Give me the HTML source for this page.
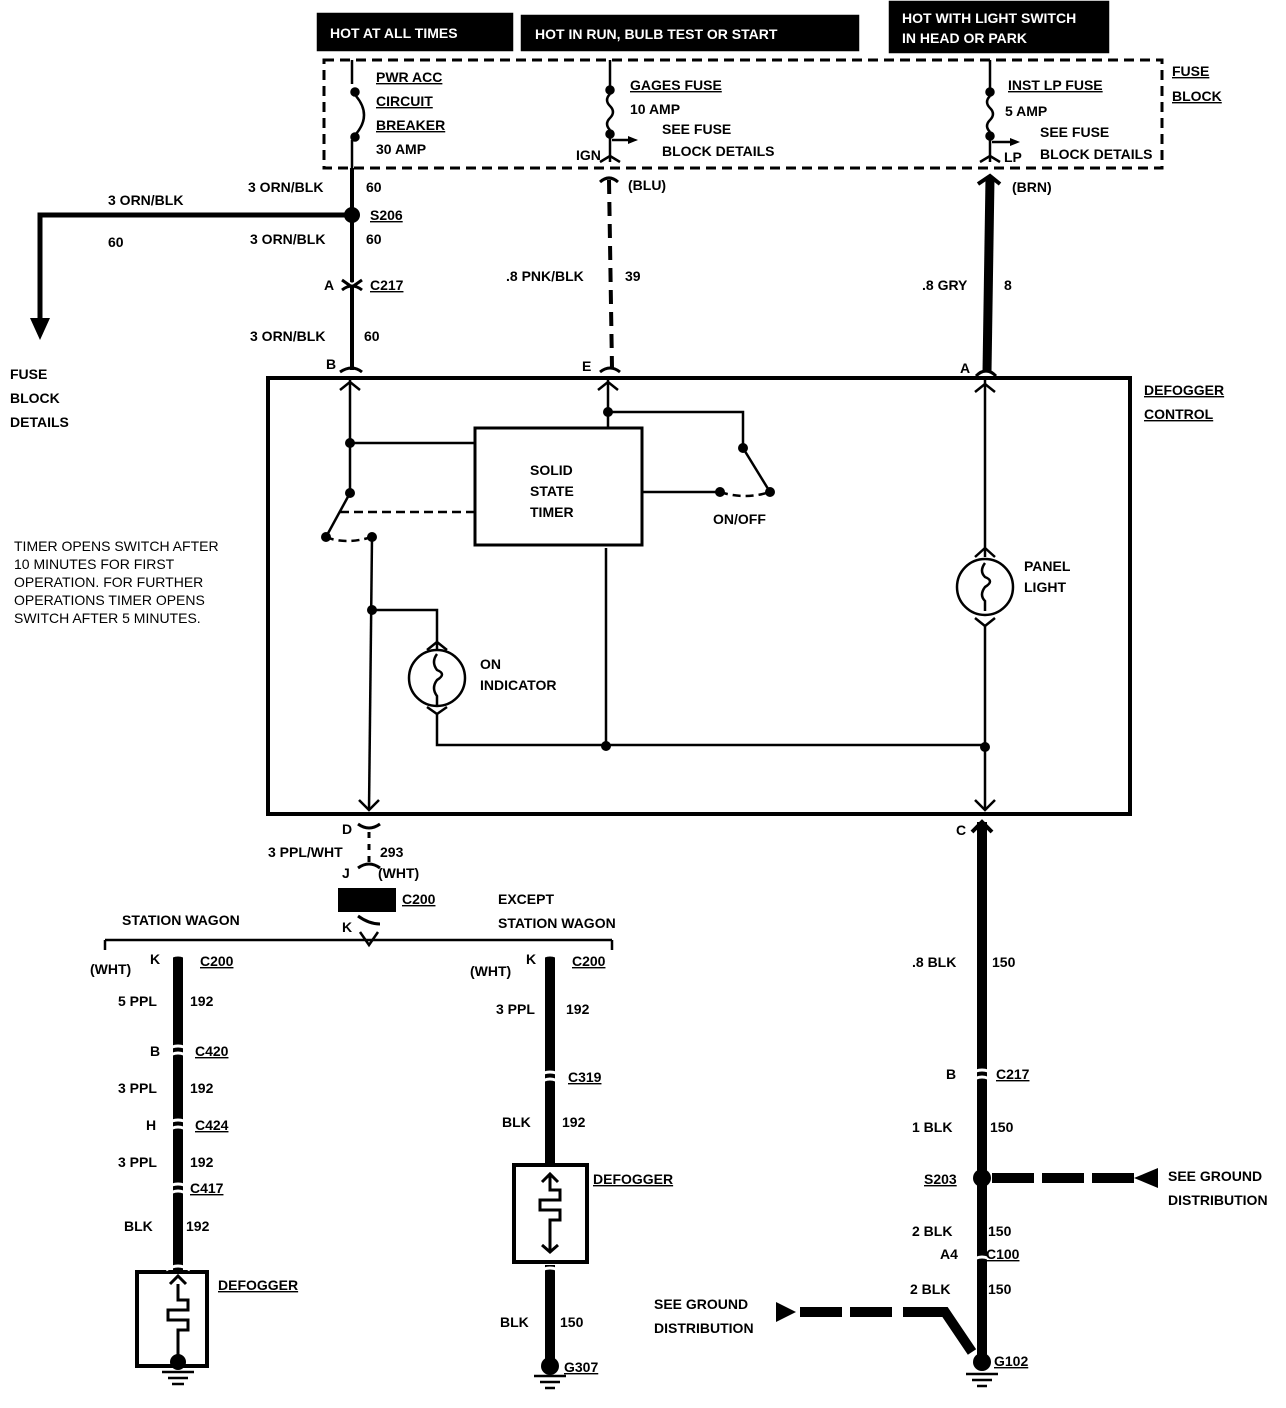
<!DOCTYPE html>
<html><head><meta charset="utf-8"><style>
html,body{margin:0;padding:0;background:#fff}
svg{display:block}
text{font-family:"Liberation Sans",sans-serif;font-weight:bold;font-size:14px;fill:#000}
.u{text-decoration:underline}
</style></head><body>
<svg width="1286" height="1408" viewBox="0 0 1286 1408" xmlns="http://www.w3.org/2000/svg">
<g fill="none" stroke="#000" stroke-width="2.5">
<rect x="318" y="14" width="194" height="36" fill="#000"/>
<rect x="522" y="16" width="336" height="34" fill="#000"/>
<rect x="890" y="2" width="218" height="50" fill="#000"/>
<rect x="324" y="60" width="838" height="108" stroke-dasharray="10,6" stroke-width="3"/>
<rect x="268" y="378" width="862" height="436" stroke-width="4"/>
<line x1="352" y1="60" x2="352" y2="84"/>
<circle cx="355" cy="92" r="3.5" fill="#000"/>
<path d="M356 96 Q372 115 356 134"/>
<circle cx="355" cy="137" r="3.5" fill="#000"/>
<line x1="352" y1="140" x2="352" y2="168"/>
<line x1="610" y1="60" x2="610" y2="86"/>
<circle cx="610" cy="90" r="3.5" fill="#000"/>
<path d="M610 94 q-6 6 0 12 q6 6 0 12 q-6 6 0 12"/>
<circle cx="610" cy="134" r="3.5" fill="#000"/>
<line x1="610" y1="138" x2="610" y2="162"/>
<line x1="612" y1="140" x2="628" y2="140"/>
<path d="M600 162 L610 156 L620 162"/>
<line x1="990" y1="60" x2="990" y2="88"/>
<circle cx="990" cy="92" r="3.5" fill="#000"/>
<path d="M990 96 q-6 6 0 12 q6 6 0 12 q-6 6 0 12"/>
<circle cx="990" cy="136" r="3.5" fill="#000"/>
<line x1="990" y1="140" x2="990" y2="162"/>
<line x1="992" y1="142" x2="1010" y2="142"/>
<path d="M980 162 L990 156 L1000 162"/>
</g>
<polygon points="1010,138 1020,142 1010,146" fill="#000"/>
<polygon points="628,136 638,140 628,144" fill="#000"/>
<g stroke="#000" fill="none">
<line x1="352" y1="168" x2="352" y2="370" stroke-width="4"/>
<line x1="609" y1="180" x2="612" y2="368" stroke-width="4" stroke-dasharray="14,8"/>
<line x1="990" y1="178" x2="987" y2="372" stroke-width="9"/>
<path d="M600 182 Q609 174 618 182" stroke-width="3"/>
<path d="M978 184 L990 176 L1000 184" stroke-width="4"/>
<path d="M352 215 L40 215 L40 318" stroke-width="5"/>
<path d="M342 288 Q352 280 362 288 M342 278 L352 285 L362 278" stroke="#fff" stroke-width="3"/>
<path d="M342 290 Q352 282 362 290 M342 280 L352 287 L362 280" stroke-width="3"/>
<path d="M340 372 Q352 364 362 372 M600 372 Q610 364 620 372 M976 376 Q986 366 996 376" stroke-width="3"/>
</g>
<polygon points="30,318 50,318 40,340" fill="#000"/>
<circle cx="352" cy="215" r="8" fill="#000"/>
<g stroke="#000" fill="none" stroke-width="2.5">
<line x1="350" y1="380" x2="350" y2="493"/>
<path d="M340 390 L350 382 L360 390 M598 390 L608 382 L618 390 M975 392 L985 384 L995 392"/>
<line x1="350" y1="443" x2="475" y2="443"/>
<line x1="350" y1="493" x2="326" y2="537"/>
<path d="M326 537 Q345 545 372 537" stroke-dasharray="8,5"/>
<line x1="340" y1="512" x2="475" y2="512" stroke-dasharray="9,5"/>
<rect x="475" y="428" width="167" height="117" stroke-width="3"/>
<line x1="608" y1="380" x2="608" y2="428"/>
<path d="M608 412 L743 412 L743 448 L770 492"/>
<line x1="642" y1="492" x2="720" y2="492"/>
<path d="M720 492 Q745 500 770 492" stroke-dasharray="8,5"/>
<line x1="606" y1="548" x2="606" y2="746"/>
<line x1="372" y1="537" x2="369" y2="810"/>
<path d="M372 610 L437 610 L437 650"/>
<circle cx="437" cy="678" r="28"/>
<path d="M427 650 L437 642 L447 650 M427 707 L437 714 L447 707"/>
<path d="M437 714 L437 745 L985 745"/>
<path d="M437 654 q-6 8 0 16 q10 4 0 10 q-6 8 0 16 l0 10"/>
<line x1="985" y1="380" x2="985" y2="557"/>
<circle cx="985" cy="587" r="28"/>
<path d="M975 557 L985 548 L995 557 M975 618 L985 626 L995 618"/>
<path d="M985 563 q-6 8 0 14 q10 4 0 10 q-6 8 0 14 l0 10"/>
<line x1="985" y1="626" x2="985" y2="810"/>
<path d="M359 800 L369 810 L379 800 M975 800 L985 810 L995 800"/>
</g>
<g fill="#000">
<circle cx="350" cy="443" r="5"/><circle cx="350" cy="493" r="5"/><circle cx="326" cy="537" r="5"/><circle cx="372" cy="537" r="5"/>
<circle cx="608" cy="412" r="5"/><circle cx="743" cy="448" r="5"/><circle cx="770" cy="492" r="5"/><circle cx="720" cy="492" r="5"/>
<circle cx="372" cy="610" r="5"/><circle cx="606" cy="746" r="5"/><circle cx="985" cy="747" r="5"/>
</g>
<g stroke="#000" fill="none">
<path d="M358 824 Q369 832 380 824 M358 916 Q369 924 380 924 M358 868 Q369 860 380 868" stroke-width="3"/>
<line x1="369" y1="832" x2="369" y2="862" stroke-width="3" stroke-dasharray="6,6"/>
<line x1="105" y1="940" x2="612" y2="940" stroke-width="2.5"/>
<path d="M105 950 L105 940 M612 950 L612 940" stroke-width="2.5"/>
<path d="M360 932 L369 945 L378 932" stroke-width="2.5"/>
<line x1="982" y1="822" x2="982" y2="1358" stroke-width="10"/>
<path d="M972 832 L982 822 L992 832" stroke-width="4"/>
<line x1="178" y1="955" x2="178" y2="1272" stroke-width="10"/>
<line x1="550" y1="955" x2="550" y2="1165" stroke-width="10"/>
<line x1="550" y1="1265" x2="550" y2="1362" stroke-width="10"/>
<rect x="137" y="1272" width="70" height="94" stroke-width="4"/>
<rect x="514" y="1165" width="73" height="97" stroke-width="4"/>
<path d="M178 1284 L178 1300 L188 1300 L188 1310 L168 1310 L168 1320 L188 1320 L188 1330 L178 1330 L178 1356" stroke-width="3"/>
<path d="M170 1284 L178 1276 L186 1284" stroke-width="3"/>
<path d="M550 1175 L550 1190 L560 1190 L560 1200 L540 1200 L540 1210 L560 1210 L560 1220 L550 1220 L550 1252" stroke-width="3"/>
<path d="M542 1182 L550 1174 L558 1182 M542 1245 L550 1252 L558 1245" stroke-width="3"/>
<path d="M800 1312 L895 1312" stroke-width="10" stroke-dasharray="42,8"/>
<path d="M903 1312 L945 1312 L972 1352" stroke-width="10"/>
<line x1="992" y1="1178" x2="1140" y2="1178" stroke-width="10" stroke-dasharray="42,8"/>
<path d="M162 1372 h32 M168 1378 h20 M172 1384 h12 M534 1376 h32 M540 1382 h20 M545 1388 h10 M966 1374 h32 M972 1380 h20 M977 1386 h10" stroke-width="2.5"/>
<path d="M166 960 Q178 950 190 960 M538 960 Q550 950 562 960 M166 1058 Q178 1048 190 1058 M166 1050 Q178 1042 190 1050 M166 1132 Q178 1122 190 1132 M166 1124 Q178 1116 190 1124 M166 1196 Q178 1186 190 1196 M166 1188 Q178 1180 190 1188 M538 1084 Q550 1074 562 1084 M538 1076 Q550 1068 562 1076 M970 1082 Q982 1072 994 1082 M970 1074 Q982 1066 994 1074 M970 1262 Q982 1252 994 1262 M166 1270 Q178 1262 190 1270 M538 1272 Q550 1264 562 1272" stroke="#fff" stroke-width="3"/>
</g>
<rect x="338" y="888" width="58" height="24" fill="#000"/>
<polygon points="1134,1178 1158,1168 1158,1188" fill="#000"/>
<polygon points="796,1312 776,1302 776,1322" fill="#000"/>
<circle cx="982" cy="1178" r="9" fill="#000"/>
<circle cx="178" cy="1362" r="8" fill="#000"/>
<circle cx="550" cy="1366" r="9" fill="#000"/>
<circle cx="982" cy="1362" r="9" fill="#000"/>
<text x="330" y="38" style="fill:#fff" font-size="15">HOT AT ALL TIMES</text>
<text x="535" y="39" style="fill:#fff" font-size="15">HOT IN RUN,   BULB TEST OR START</text>
<text x="902" y="23" style="fill:#fff" font-size="13">HOT WITH LIGHT SWITCH</text>
<text x="902" y="43" style="fill:#fff" font-size="13">IN HEAD OR PARK</text>
<text x="376" y="82" class="u" font-size="15">PWR ACC</text>
<text x="376" y="106" class="u" font-size="15">CIRCUIT</text>
<text x="376" y="130" class="u" font-size="15">BREAKER</text>
<text x="376" y="154" font-size="12">30 AMP</text>
<text x="630" y="90" class="u" font-size="15">GAGES FUSE</text>
<text x="630" y="114" font-size="12">10 AMP</text>
<text x="662" y="134" font-size="12">SEE FUSE</text>
<text x="662" y="156" font-size="12">BLOCK DETAILS</text>
<text x="576" y="160" font-size="12">IGN</text>
<text x="1008" y="90" class="u" font-size="15">INST LP FUSE</text>
<text x="1005" y="116" font-size="12">5 AMP</text>
<text x="1040" y="137" font-size="12">SEE FUSE</text>
<text x="1040" y="159" font-size="12">BLOCK DETAILS</text>
<text x="1004" y="162" font-size="12">LP</text>
<text x="1172" y="76" class="u" font-size="15">FUSE</text>
<text x="1172" y="101" class="u" font-size="15">BLOCK</text>
<text x="248" y="192">3 ORN/BLK</text><text x="366" y="192">60</text>
<text x="108" y="205">3 ORN/BLK</text><text x="108" y="247">60</text>
<text x="370" y="220" class="u">S206</text>
<text x="250" y="244">3 ORN/BLK</text><text x="366" y="244">60</text>
<text x="324" y="290">A</text><text x="370" y="290" class="u">C217</text>
<text x="250" y="341">3 ORN/BLK</text><text x="364" y="341">60</text>
<text x="326" y="369">B</text><text x="582" y="371">E</text><text x="960" y="373">A</text>
<text x="628" y="190">(BLU)</text><text x="1012" y="192">(BRN)</text>
<text x="506" y="281">.8 PNK/BLK</text><text x="625" y="281">39</text>
<text x="922" y="290">.8 GRY</text><text x="1004" y="290">8</text>
<text x="10" y="379" font-size="15">FUSE</text><text x="10" y="403" font-size="15">BLOCK</text><text x="10" y="427" font-size="15">DETAILS</text>
<text x="1144" y="395" class="u" font-size="15">DEFOGGER</text>
<text x="1144" y="419" class="u" font-size="15">CONTROL</text>
<text x="530" y="475" font-size="13">SOLID</text><text x="530" y="496" font-size="13">STATE</text><text x="530" y="517" font-size="13">TIMER</text>
<text x="713" y="524" font-size="12">ON/OFF</text>
<text x="480" y="669" font-size="13">ON</text><text x="480" y="690" font-size="13">INDICATOR</text>
<text x="1024" y="571" font-size="12">PANEL</text><text x="1024" y="592" font-size="12">LIGHT</text>
<text x="14" y="551" style="font-weight:normal">TIMER OPENS SWITCH AFTER</text>
<text x="14" y="569" style="font-weight:normal">10 MINUTES FOR FIRST</text>
<text x="14" y="587" style="font-weight:normal">OPERATION.  FOR FURTHER</text>
<text x="14" y="605" style="font-weight:normal">OPERATIONS TIMER OPENS</text>
<text x="14" y="623" style="font-weight:normal">SWITCH AFTER 5 MINUTES.</text>
<text x="342" y="834">D</text><text x="956" y="835">C</text>
<text x="268" y="857">3 PPL/WHT</text><text x="380" y="857">293</text>
<text x="342" y="878">J</text><text x="378" y="878">(WHT)</text>
<text x="402" y="904" class="u">C200</text>
<text x="342" y="932">K</text>
<text x="122" y="925" font-size="15">STATION WAGON</text>
<text x="498" y="904" font-size="15">EXCEPT</text><text x="498" y="928" font-size="15">STATION WAGON</text>
<text x="90" y="974">(WHT)</text><text x="150" y="964">K</text><text x="200" y="966" class="u">C200</text>
<text x="470" y="976">(WHT)</text><text x="526" y="964">K</text><text x="572" y="966" class="u">C200</text>
<text x="118" y="1006">5 PPL</text><text x="190" y="1006">192</text>
<text x="150" y="1056">B</text><text x="195" y="1056" class="u">C420</text>
<text x="118" y="1093">3 PPL</text><text x="190" y="1093">192</text>
<text x="146" y="1130">H</text><text x="195" y="1130" class="u">C424</text>
<text x="118" y="1167">3 PPL</text><text x="190" y="1167">192</text>
<text x="190" y="1193" class="u">C417</text>
<text x="124" y="1231">BLK</text><text x="186" y="1231">192</text>
<text x="218" y="1290" class="u" font-size="15">DEFOGGER</text>
<text x="496" y="1014">3 PPL</text><text x="566" y="1014">192</text>
<text x="568" y="1082" class="u">C319</text>
<text x="502" y="1127">BLK</text><text x="562" y="1127">192</text>
<text x="593" y="1184" class="u" font-size="15">DEFOGGER</text>
<text x="500" y="1327">BLK</text><text x="560" y="1327">150</text>
<text x="564" y="1372" class="u">G307</text>
<text x="912" y="967">.8 BLK</text><text x="992" y="967">150</text>
<text x="946" y="1079">B</text><text x="996" y="1079" class="u">C217</text>
<text x="912" y="1132">1 BLK</text><text x="990" y="1132">150</text>
<text x="924" y="1184" class="u">S203</text>
<text x="1168" y="1181" font-size="15">SEE GROUND</text><text x="1168" y="1205" font-size="15">DISTRIBUTION</text>
<text x="912" y="1236">2 BLK</text><text x="988" y="1236">150</text>
<text x="940" y="1259">A4</text><text x="986" y="1259" class="u">C100</text>
<text x="910" y="1294">2 BLK</text><text x="988" y="1294">150</text>
<text x="654" y="1309" font-size="15">SEE GROUND</text><text x="654" y="1333" font-size="15">DISTRIBUTION</text>
<text x="994" y="1366" class="u">G102</text>
</svg>
</body></html>
